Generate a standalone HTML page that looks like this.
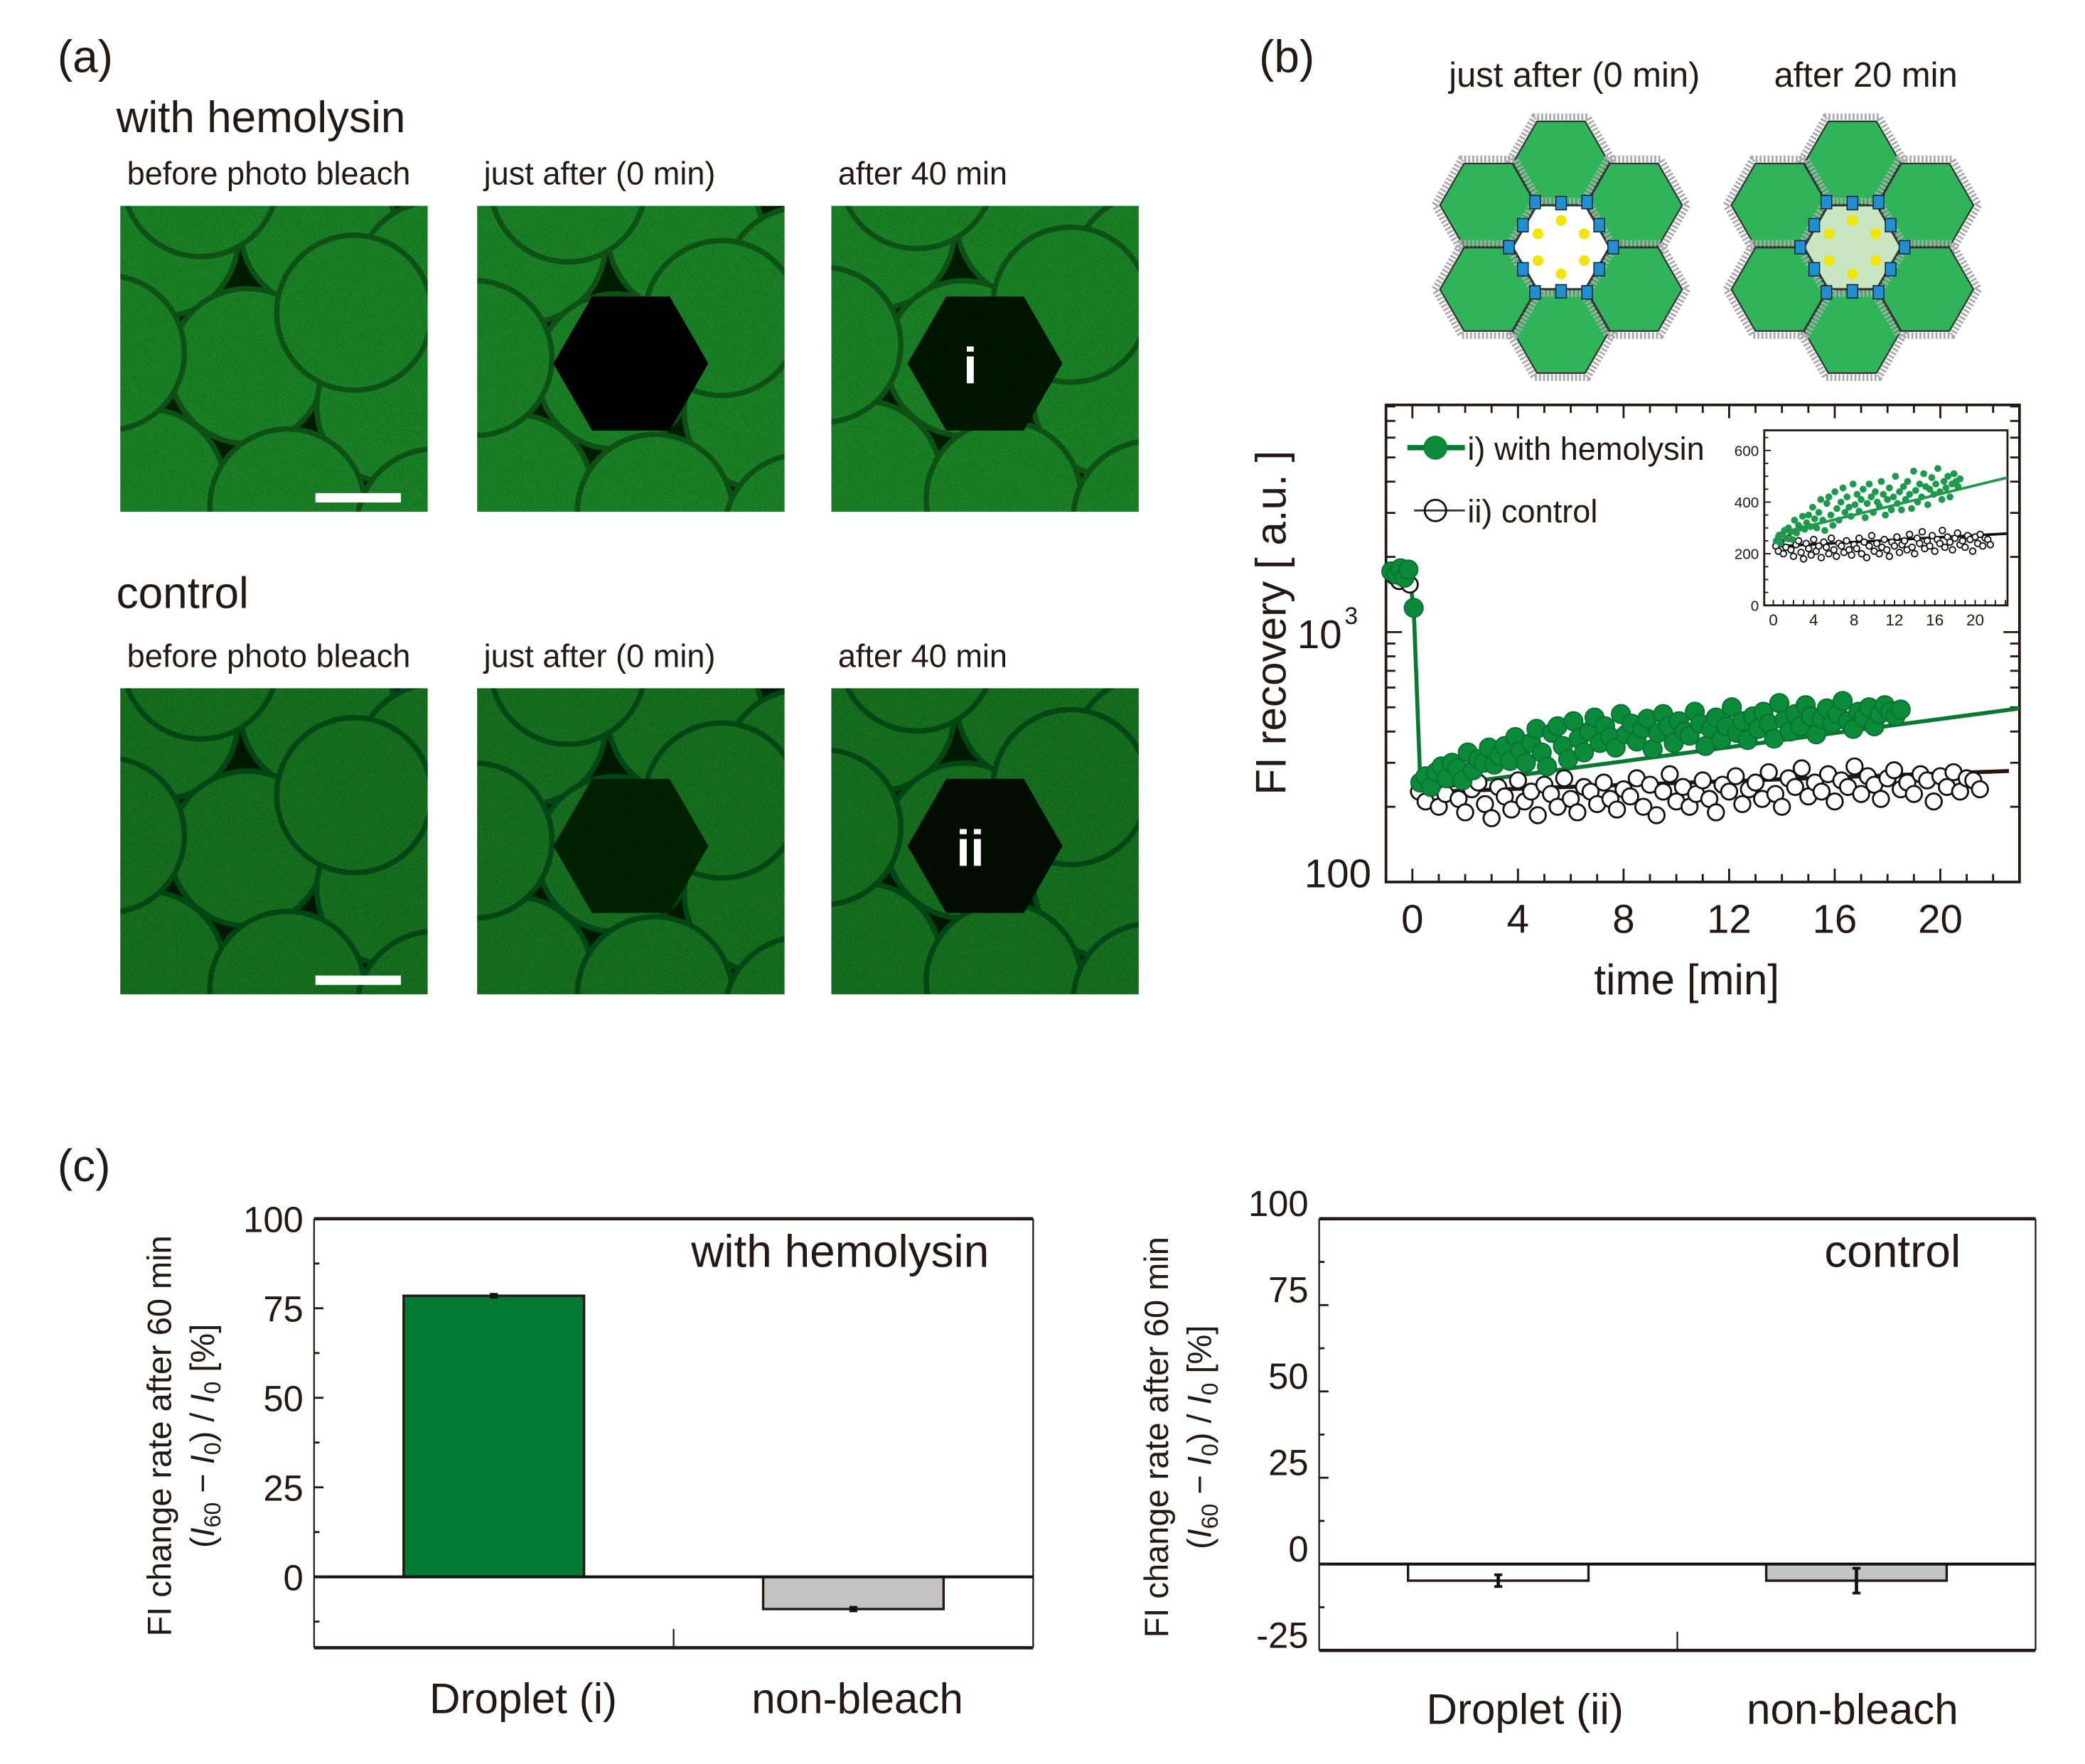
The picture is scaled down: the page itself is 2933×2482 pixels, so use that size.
<!DOCTYPE html>
<html><head><meta charset="utf-8"><style>
html,body{margin:0;padding:0;background:#fff}
svg{display:block}
text{font-family:"Liberation Sans",Arial,sans-serif;fill:#231815}
</style></head><body>
<svg id="fig" xmlns="http://www.w3.org/2000/svg" width="2933" height="2482" viewBox="0 0 1560 1320" preserveAspectRatio="none">
<defs>
<filter id="noise" x="0" y="0" width="100%" height="100%">
<feTurbulence type="fractalNoise" baseFrequency="0.9" numOctaves="1" seed="3" result="t"/>
<feColorMatrix in="t" type="matrix" values="0 0 0 0 0  0 0 0 0 0  0 0 0 0 0  0 0 0 0.55 0" result="n"/>
<feComposite in="n" in2="SourceGraphic" operator="in" result="m"/>
<feMerge><feMergeNode in="SourceGraphic"/><feMergeNode in="m"/></feMerge>
</filter>
</defs>
<g id="panelA"></g>
<g id="panelB"></g>
<g id="panelC"></g>
</svg>
<script>
// ---------- panel b data ----------
const preT_green = [-0.8,-0.6,-0.45,-0.3,-0.15,0.05];
const preV_green = [1750,1700,1800,1650,1780,1250];
const preT_ctrl = [-0.7,-0.5,-0.25,-0.1];
const preV_ctrl = [1680,1600,1720,1550];
const greenT = [0.3,0.5,0.7,0.9,1.1,1.3,1.5,1.7,1.9,2.1,2.3,2.5,2.7,2.9,3.1,3.3,3.5,3.7,3.9,4.1,4.3,4.5,4.7,4.9,5.1,5.3,5.5,5.7,5.9,6.1,6.3,6.5,6.7,6.9,7.1,7.3,7.5,7.7,7.9,8.1,8.3,8.5,8.7,8.9,9.1,9.3,9.5,9.7,9.9,10.1,10.3,10.5,10.7,10.9,11.1,11.3,11.5,11.7,11.9,12.1,12.3,12.5,12.7,12.9,13.1,13.3,13.5,13.7,13.9,14.1,14.3,14.5,14.7,14.9,15.1,15.3,15.5,15.7,15.9,16.1,16.3,16.5,16.7,16.9,17.1,17.3,17.5,17.7,17.9,18.1,18.3,18.5];
const greenV = [250,265,240,275,290,260,300,285,255,330,280,310,300,345,295,320,350,305,380,335,300,360,410,330,290,395,420,350,310,440,375,330,400,455,360,420,380,345,470,390,430,365,410,450,340,395,470,420,360,440,400,385,480,430,350,410,455,370,420,500,395,440,370,460,410,480,430,375,520,445,400,470,420,510,460,390,450,495,430,470,530,440,410,480,455,500,420,470,510,480,460,490];
const ctrlT = [0.25,0.5,0.75,1,1.25,1.5,1.75,2,2.25,2.5,2.75,3,3.25,3.5,3.75,4,4.25,4.5,4.75,5,5.25,5.5,5.75,6,6.25,6.5,6.75,7,7.25,7.5,7.75,8,8.25,8.5,8.75,9,9.25,9.5,9.75,10,10.25,10.5,10.75,11,11.25,11.5,11.75,12,12.25,12.5,12.75,13,13.25,13.5,13.75,14,14.25,14.5,14.75,15,15.25,15.5,15.75,16,16.25,16.5,16.75,17,17.25,17.5,17.75,18,18.25,18.5,18.75,19,19.25,19.5,19.75,20,20.25,20.5,20.75,21,21.25,21.5];
const ctrlV = [230,210,245,200,225,260,215,190,235,250,205,180,240,220,195,255,210,230,185,245,225,200,260,215,190,240,230,205,250,215,195,235,220,260,200,245,185,230,270,210,240,200,225,255,215,190,245,230,265,205,235,250,215,275,225,200,260,240,285,220,250,230,270,210,255,240,290,225,265,245,215,260,280,235,250,225,270,255,210,265,240,275,230,260,255,235];
const fitGreenT = [0.3,23]; const fitGreenV = [237,495];
const fitCtrlT = [0,22.6]; const fitCtrlV = [228,278];
const xTicksB = [0,4,8,12,16,20];
const insetYTicks = [0,200,400,600];
const insetXTicks = [0,4,8,12,16,20];
// ---------- panel c data ----------
const catsLeft = ["Droplet (i)","non-bleach"];
const valsLeft = [78.5,-9];
const errsLeft = [0.4,0.5];
const catsRight = ["Droplet (ii)","non-bleach"];
const valsRight = [-4.8,-4.8];
const errsRight = [1.7,3.6];
const yTicksLeft = [0,25,50,75,100];
const yTicksRight = [-25,0,25,50,75,100];

const NS="http://www.w3.org/2000/svg";
function mk(tag,attrs,parent,txt){const e=document.createElementNS(NS,tag);for(const k in attrs)e.setAttribute(k,attrs[k]);if(txt!==undefined)e.textContent=txt;parent.appendChild(e);return e;}

// ---------- panel a ----------
const A=document.getElementById('panelA');
let t;
t=mk('text',{x:43,y:54,'font-size':34},A,'(a)');

t=mk('text',{x:87,y:99,'font-size':33},A,'with hemolysin');

t=mk('text',{x:87,y:455,'font-size':33},A,'control');

const subs=['before photo bleach','just after (0 min)','after 40 min'];
const colX=[90,357,622];
const rowY=[154,515];
const blobs=[[30,25],[148,18],[235,55],[95,120],[205,150],[20,210],[125,225],[235,240],[-10,110],[175,80],[60,-20]];
for(let r=0;r<2;r++){
  for(let c=0;c<3;c++){
    t=mk('text',{x:colX[c]+5,y:rowY[r]-16,'font-size':24},A,subs[c]);
    
    const g=mk('g',{transform:`translate(${colX[c]},${rowY[r]})`},A);
    
    const cp='cp'+r+c;
    const clip=mk('clipPath',{id:cp},g);mk('rect',{x:0,y:0,width:230,height:229},clip);
    const inner=mk('g',{'clip-path':`url(#${cp})`,filter:'url(#noise)'},g);
    const base=r===0?'#06280b':'#05220a';
    const fill=r===0?'#22902e':'#1d7d28';
    const edge=r===0?'#145f1d':'#11521a';
    mk('rect',{x:0,y:0,width:230,height:229,fill:base},inner);
    const sh=[[0,0],[8,4],[4,-6]][c];
    blobs.forEach(b=>mk('circle',{cx:b[0]+sh[0],cy:b[1]+sh[1],r:58,fill:fill,stroke:edge,'stroke-width':4},inner));
    if(c>0){
      const cx=115,cy=118,R=58;let p=[];
      for(let k=0;k<6;k++){const a=Math.PI/3*k;p.push((cx+R*Math.cos(a)).toFixed(1)+','+(cy+R*Math.sin(a)).toFixed(1));}
      const col=c===1?(r===0?'#020a03':'#0a2a10'):(r===0?'#061a09':'#05160a');
      mk('polygon',{points:p.join(' '),fill:col},inner);
    }
    if(c===0){const s=mk('rect',{x:146,y:215,width:64,height:7,fill:'#fff'},g);}
    if(c===2){t=mk('text',{x:104,y:133,'font-size':38,'font-weight':'bold','text-anchor':'middle',style:'fill:#fff'},g,r===0?'i':'ii');
      }
  }
}

// ---------- panel b ----------
const B=document.getElementById('panelB');
t=mk('text',{x:942,y:54,'font-size':34},B,'(b)');

t=mk('text',{x:1178,y:65,'font-size':26,'text-anchor':'middle'},B,'just after (0 min)');

t=mk('text',{x:1396,y:65,'font-size':26,'text-anchor':'middle'},B,'after 20 min');

function hexPts(cx,cy,R){let p=[];for(let k=0;k<6;k++){const a=Math.PI/3*k;p.push((cx+R*Math.cos(a)).toFixed(1)+','+(cy+R*Math.sin(a)).toFixed(1));}return p.join(' ');}
[[1168,'#ffffff'],[1386,'#c8e6c0']].forEach((d,i)=>{
  const g=mk('g',{},B);
  
  const cx=d[0],cy=185,D=63,R=36;
  const offs=[[0,-D],[0,D],[D*0.866,-D/2],[D*0.866,D/2],[-D*0.866,-D/2],[-D*0.866,D/2]];
  offs.forEach(o=>{
    mk('polygon',{points:hexPts(cx+o[0],cy+o[1],R+4),fill:'none',stroke:'#aaa','stroke-width':5,'stroke-dasharray':'1.5 1.5'},g);
    mk('polygon',{points:hexPts(cx+o[0],cy+o[1],R),fill:'#30b45a',stroke:'#333','stroke-width':1.2},g);
  });
  mk('polygon',{points:hexPts(cx,cy,R+4),fill:'none',stroke:'#aaa','stroke-width':5,'stroke-dasharray':'1.5 1.5'},g);
  mk('polygon',{points:hexPts(cx,cy,R),fill:d[1],stroke:'#333','stroke-width':1.2},g);
  for(let k=0;k<6;k++){const a=Math.PI/3*k+Math.PI/6;
    const px=cx+33*Math.cos(a),py=cy+33*Math.sin(a);
    mk('rect',{x:px-4,y:py-5,width:8,height:10,fill:'#1e8fd0',stroke:'#123','stroke-width':0.8},g);
    const ax=cx+20*Math.cos(a),ay=cy+20*Math.sin(a);
    mk('circle',{cx:ax,cy:ay,r:4,fill:'#f2e600'},g);}
  for(let k=0;k<6;k++){const a=Math.PI/3*k;
    const px=cx+39*Math.cos(a),py=cy+39*Math.sin(a);
    mk('rect',{x:px-4,y:py-5,width:8,height:10,fill:'#1e8fd0',stroke:'#123','stroke-width':0.8},g);}
});
// main chart
const L=1037,Rr=1511,T=303,Bt=660;
const xMin=-1.0,xMax=23.0;
const sx=v=>L+(v-xMin)/(xMax-xMin)*(Rr-L);
const decade=187;
const sy=v=>Bt-(Math.log10(v)-2)*decade;
const chart=mk('g',{},B);

let fr=mk('rect',{x:L,y:T,width:Rr-L,height:Bt-T,fill:'none',stroke:'#231815','stroke-width':2},chart);

for(let v=-1;v<=23;v++){const X=sx(v);const len=(v%4===0)?10:6;mk('line',{x1:X,y1:Bt,x2:X,y2:Bt-len,stroke:'#231815','stroke-width':1.5},chart);mk('line',{x1:X,y1:T,x2:X,y2:T+len,stroke:'#231815','stroke-width':1.5},chart);}
[100,200,300,400,500,600,700,800,900,1000,2000,3000,4000,5000,6000,7000,8000].forEach(v=>{const Y=sy(v);if(Y<T)return;const len=(v===100||v===1000)?12:7;mk('line',{x1:L,y1:Y,x2:L+len,y2:Y,stroke:'#231815','stroke-width':1.5},chart);mk('line',{x1:Rr,y1:Y,x2:Rr-len,y2:Y,stroke:'#231815','stroke-width':1.5},chart);});
xTicksB.forEach(v=>{t=mk('text',{x:sx(v),y:698,'font-size':30,'text-anchor':'middle'},chart,String(v));
  });
t=mk('text',{x:1026,y:664,'font-size':30,'text-anchor':'end'},chart,'100');

t=mk('text',{x:1004,y:sy(1000)+12,'font-size':30,'text-anchor':'end'},chart,'10');

t=mk('text',{x:1006,y:sy(1000)-6,'font-size':18},chart,'3');

t=mk('text',{x:1262,y:744,'font-size':32,'text-anchor':'middle'},chart,'time [min]');

t=mk('text',{x:0,y:0,'font-size':32,'text-anchor':'middle',transform:'translate(962,466) rotate(-90)'},chart,'FI recovery [ a.u. ]');

let ln=mk('line',{x1:sx(fitGreenT[0]),y1:sy(fitGreenV[0]),x2:sx(fitGreenT[1]),y2:sy(fitGreenV[1]),stroke:'#067a30','stroke-width':3},chart);

ln=mk('line',{x1:sx(fitCtrlT[0]),y1:sy(fitCtrlV[0]),x2:sx(fitCtrlT[1]),y2:sy(fitCtrlV[1]),stroke:'#2a1510','stroke-width':3},chart);

const dropPts=preT_green.map((v,i)=>sx(v)+','+sy(preV_green[i])).concat([sx(greenT[0])+','+sy(greenV[0])]);
ln=mk('polyline',{points:dropPts.join(' '),fill:'none',stroke:'#067a30','stroke-width':3},chart);

const allCT=preT_ctrl.concat(ctrlT),allCV=preV_ctrl.concat(ctrlV);
allCT.forEach((v,i)=>{const c=mk('circle',{cx:sx(v),cy:sy(allCV[i]),r:6,fill:'#fff',stroke:'#111','stroke-width':1.5},chart);
  });
const allGT=preT_green.concat(greenT),allGV=preV_green.concat(greenV);
allGT.forEach((v,i)=>{const c=mk('circle',{cx:sx(v),cy:sy(allGV[i]),r:7,fill:'#0b8a3a',stroke:'#067030','stroke-width':1},chart);
  });
const lg=mk('g',{},chart);
mk('line',{x1:1053,y1:335,x2:1096,y2:335,stroke:'#067a30','stroke-width':4},lg);
mk('circle',{cx:1074,cy:335,r:9,fill:'#0b8a3a'},lg);
t=mk('text',{x:1098,y:344,'font-size':24},lg,'i) with hemolysin');

mk('line',{x1:1058,y1:382,x2:1096,y2:382,stroke:'#333','stroke-width':1.5},lg);
mk('circle',{cx:1074,cy:382,r:8,fill:'none',stroke:'#111','stroke-width':1.5},lg);
t=mk('text',{x:1098,y:391,'font-size':24},lg,'ii) control');

// inset
const iL=1320,iR=1502,iT=322,iB=453;
const ixMin=-0.9,ixMax=23.2,iyMax=678;
const isx=v=>iL+(v-ixMin)/(ixMax-ixMin)*(iR-iL);
const isy=v=>iB-v/iyMax*(iB-iT);
const ins=mk('g',{},chart);
mk('rect',{x:iL,y:iT,width:iR-iL,height:iB-iT,fill:'#fff',stroke:'#231815','stroke-width':1.5},ins);
for(let v=0;v<=23;v++){mk('line',{x1:isx(v),y1:iB,x2:isx(v),y2:iB-4,stroke:'#231815','stroke-width':1},ins);}
for(let v=0;v<=650;v+=50){mk('line',{x1:iL,y1:isy(v),x2:iL+(v%200===0?5:3),y2:isy(v),stroke:'#231815','stroke-width':1},ins);}
insetYTicks.forEach(v=>{t=mk('text',{x:iL-4,y:isy(v)+4,'font-size':11,'text-anchor':'end'},ins,String(v));});
insetXTicks.forEach(v=>{t=mk('text',{x:isx(v),y:iB+15,'font-size':12,'text-anchor':'middle'},ins,String(v));});
ln=mk('line',{x1:isx(fitGreenT[0]),y1:isy(fitGreenV[0]+40),x2:isx(ixMax),y2:isy(fitGreenV[1]),stroke:'#1a9a4a','stroke-width':2},ins);

ln=mk('line',{x1:isx(0),y1:isy(fitCtrlV[0]),x2:isx(ixMax),y2:isy(fitCtrlV[1]),stroke:'#111','stroke-width':2},ins);

ctrlT.forEach((v,i)=>{const c=mk('circle',{cx:isx(v),cy:isy(ctrlV[i]),r:2.3,fill:'#fff',stroke:'#111','stroke-width':1},ins);});
greenT.forEach((v,i)=>{const c=mk('circle',{cx:isx(v),cy:isy(greenV[i]),r:2.6,fill:'#1a9a4a'},ins);});

// ---------- panel c ----------
const C=document.getElementById('panelC');
t=mk('text',{x:43,y:884,'font-size':34},C,'(c)');

function barChart(o){
  const g=mk('g',{},C);
  const sy=v=>o.T+(o.yMax-v)/(o.yMax-o.yMin)*(o.B-o.T);
  const bw=135, slot=(o.R-o.L)/2;
  o.vals.forEach((v,i)=>{
    const cx=o.L+slot*(i+0.5);
    const y0=sy(0),y1=sy(v);
    const r=mk('rect',{x:cx-bw/2,y:Math.min(y0,y1),width:bw,height:Math.abs(y1-y0),fill:o.colors[i],stroke:'#231815','stroke-width':1.8},g);
    
    const e=mk('line',{x1:cx,y1:sy(v-o.errs[i]),x2:cx,y2:sy(v+o.errs[i]),stroke:'#111','stroke-width':2.5},g);
    
    mk('line',{x1:cx-3,y1:sy(v-o.errs[i]),x2:cx+3,y2:sy(v-o.errs[i]),stroke:'#111','stroke-width':2},g);
    mk('line',{x1:cx-3,y1:sy(v+o.errs[i]),x2:cx+3,y2:sy(v+o.errs[i]),stroke:'#111','stroke-width':2},g);
    t=mk('text',{x:cx+o.labDx[i],y:o.labY,'font-size':32,'text-anchor':'middle'},g,o.cats[i]);
    
  });
  mk('line',{x1:o.L,y1:o.T,x2:o.R,y2:o.T,stroke:'#231815','stroke-width':2.5},g);
  mk('line',{x1:o.L,y1:o.B,x2:o.R,y2:o.B,stroke:'#231815','stroke-width':2.5},g);
  mk('line',{x1:o.L,y1:o.T,x2:o.L,y2:o.B,stroke:'#231815','stroke-width':1.2},g);
  mk('line',{x1:o.R,y1:o.T,x2:o.R,y2:o.B,stroke:'#231815','stroke-width':1.2},g);
  mk('line',{x1:o.L,y1:sy(0),x2:o.R,y2:sy(0),stroke:'#111','stroke-width':2.2},g);
  mk('line',{x1:(o.L+o.R)/2,y1:o.B,x2:(o.L+o.R)/2,y2:o.B-14,stroke:'#231815','stroke-width':1.2},g);
  for(let v=-25;v<=100;v+=12.5){if(v<o.yMin||v>o.yMax)continue;mk('line',{x1:o.L,y1:sy(v),x2:o.L+(v%25===0?7:4),y2:sy(v),stroke:'#231815','stroke-width':1.5},g);}
  o.ticks.forEach(v=>{t=mk('text',{x:o.L-8,y:sy(v)+o.tickDy,'font-size':27,'text-anchor':'end'},g,String(v));});
  t=mk('text',{x:o.titleX,y:o.T+36,'font-size':34,'text-anchor':'end'},g,o.title);
  
  t=mk('text',{x:0,y:0,'font-size':25,'text-anchor':'middle',transform:`translate(${o.axX},${(o.T+o.B)/2+2}) rotate(-90)`},g,'FI change rate after 60 min');
  
  t=mk('text',{x:0,y:0,'font-size':25,'text-anchor':'middle',transform:`translate(${o.axX+32},${(o.T+o.B)/2+2}) rotate(-90)`},g);
  
  t.innerHTML='(<tspan font-style="italic">I</tspan><tspan font-size="17" dy="5">60</tspan><tspan dy="-5"> − </tspan><tspan font-style="italic">I</tspan><tspan font-size="17" dy="5">0</tspan><tspan dy="-5">) / </tspan><tspan font-style="italic">I</tspan><tspan font-size="17" dy="5">0</tspan><tspan dy="-5"> [%]</tspan>';
}
barChart({name:'bar-chart-hemolysin',L:235,R:773,T:912,B:1233,yMin:-19.8,yMax:100,vals:valsLeft,errs:errsLeft,cats:catsLeft,colors:['#037a34','#c4c4c4'],ticks:yTicksLeft,title:'with hemolysin',titleX:740,labY:1282,labDx:[22,3],axX:128,tickDy:10});
barChart({name:'bar-chart-control',L:987,R:1523,T:912,B:1235,yMin:-25,yMax:100,vals:valsRight,errs:errsRight,cats:catsRight,colors:['#ffffff','#c4c4c4'],ticks:yTicksRight,title:'control',titleX:1467,labY:1290,labDx:[20,-3],axX:874,tickDy:-2});
</script>
</body></html>
